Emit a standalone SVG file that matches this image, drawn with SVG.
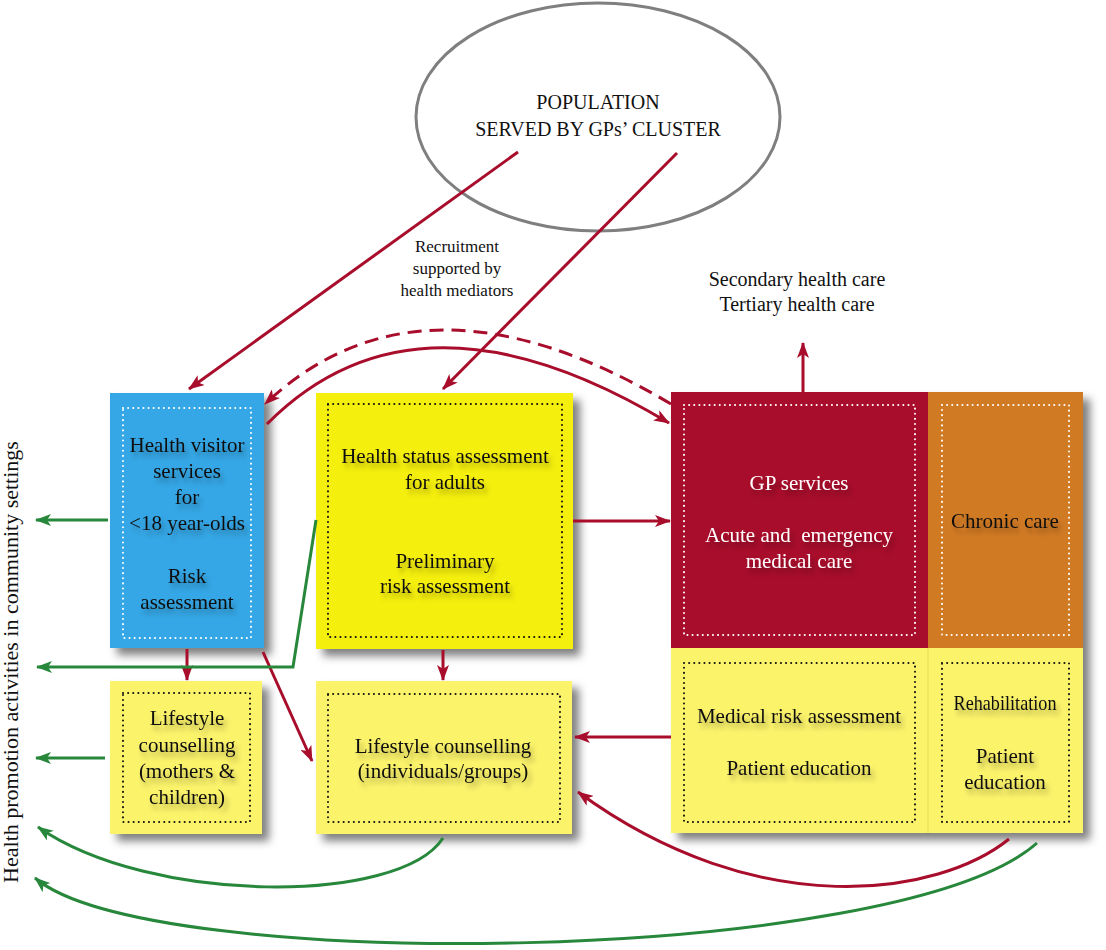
<svg xmlns="http://www.w3.org/2000/svg" width="1106" height="950" viewBox="0 0 1106 950">
<defs>
  <filter id="sh" x="-10%" y="-10%" width="130%" height="130%">
    <feDropShadow dx="7" dy="7" stdDeviation="4" flood-color="#000" flood-opacity="0.5"/>
  </filter>
  <filter id="ts" x="-10%" y="-30%" width="130%" height="190%">
    <feDropShadow dx="3" dy="5" stdDeviation="2.5" flood-color="#000" flood-opacity="0.3"/>
  </filter>
  <marker id="ar" viewBox="0 0 16 12" refX="15" refY="6" markerWidth="16" markerHeight="12" markerUnits="userSpaceOnUse" orient="auto">
    <path d="M0,0 L16,6 L0,12 L4,6 z" fill="#a80d2b"/>
  </marker>
  <marker id="ag" viewBox="0 0 16 12" refX="15" refY="6" markerWidth="16" markerHeight="12" markerUnits="userSpaceOnUse" orient="auto">
    <path d="M0,0 L16,6 L0,12 L4,6 z" fill="#27873b"/>
  </marker>
  <style>
    text { font-family: "Liberation Serif", "Times New Roman", serif; text-anchor: middle; white-space: pre; }
    .bt { font-size: 21px; fill: #111; filter: url(#ts); }
    .wt { font-size: 21px; fill: #fff; filter: url(#ts); }
    .dw { fill: none; stroke: #fff; stroke-width: 2; stroke-dasharray: 0.1 5; stroke-linecap: round; }
    .db { fill: none; stroke: #111; stroke-width: 2; stroke-dasharray: 0.1 5; stroke-linecap: round; }
    .r { fill: none; stroke: #a80d2b; stroke-width: 3; marker-end: url(#ar); }
    .g { fill: none; stroke: #27873b; stroke-width: 3; marker-end: url(#ag); }
  </style>
</defs>
<rect width="1106" height="950" fill="#fff"/>

<g id="population">
  <ellipse cx="598" cy="117" rx="182" ry="114" fill="#fff" stroke="#7f7f7f" stroke-width="3"/>
  <text x="598" y="109" font-size="20" fill="#111">POPULATION</text>
  <text x="598" y="136" font-size="20" fill="#111">SERVED BY GPs’ CLUSTER</text>
</g>

<g id="recruitment-label">
  <text x="457" y="252" font-size="17" fill="#111">Recruitment</text>
  <text x="457" y="274" font-size="17" fill="#111">supported by</text>
  <text x="457" y="296" font-size="17" fill="#111">health mediators</text>
</g>

<g id="secondary-label">
  <text x="797" y="286" font-size="20" fill="#111">Secondary health care</text>
  <text x="797" y="311" font-size="20" fill="#111">Tertiary health care</text>
</g>

<g id="side-label">
  <text transform="translate(18,662) rotate(-90)" font-size="22" fill="#111">Health promotion activities in community settings</text>
</g>

<g id="health-visitor">
  <rect x="110" y="393" width="154" height="255" fill="#36a7e6" filter="url(#sh)"/>
  <rect x="123" y="408" width="128" height="230" class="dw"/>
  <text class="bt" x="187" y="452">Health visitor</text>
  <text class="bt" x="187" y="478">services</text>
  <text class="bt" x="187" y="504">for</text>
  <text class="bt" x="187" y="530">&lt;18 year-olds</text>
  <text class="bt" x="187" y="583">Risk</text>
  <text class="bt" x="187" y="609">assessment</text>
</g>

<g id="health-status">
  <rect x="316" y="393" width="257" height="256" fill="#f5ef0b" filter="url(#sh)"/>
  <rect x="328" y="404" width="234" height="233" class="db"/>
  <text class="bt" x="445" y="463">Health status assessment</text>
  <text class="bt" x="445" y="489">for adults</text>
  <text class="bt" x="445" y="568">Preliminary</text>
  <text class="bt" x="445" y="593">risk assessment</text>
</g>

<g id="gp-block">
  <rect x="671" y="392" width="412" height="441" fill="#fbf36b" filter="url(#sh)"/>
  <line x1="928" y1="648" x2="928" y2="833" stroke="#ece35e" stroke-width="1.5"/>
</g>

<g id="gp-services">
  <rect x="671" y="392" width="257" height="256" fill="#a80d2b"/>
  <rect x="684" y="405" width="231" height="230" class="dw"/>
  <text class="wt" x="799" y="490">GP services</text>
  <text class="wt" x="799" y="542" xml:space="preserve">Acute and  emergency</text>
  <text class="wt" x="799" y="568">medical care</text>
</g>

<g id="chronic-care">
  <rect x="928" y="392" width="155" height="256" fill="#d17a24"/>
  <rect x="942" y="405" width="127" height="230" class="dw"/>
  <text class="bt" x="1005" y="528">Chronic care</text>
</g>

<g id="medical-risk">
  <rect x="684" y="663" width="231" height="159" class="db"/>
  <text class="bt" x="799" y="723">Medical risk assessment</text>
  <text class="bt" x="799" y="775">Patient education</text>
</g>

<g id="rehabilitation">
  <rect x="942" y="663" width="127" height="159" class="db"/>
  <text class="bt" x="1005" y="710" textLength="103" lengthAdjust="spacingAndGlyphs">Rehabilitation</text>
  <text class="bt" x="1005" y="763">Patient</text>
  <text class="bt" x="1005" y="789">education</text>
</g>

<g id="lifestyle-mothers">
  <rect x="110" y="681" width="152" height="153" fill="#fbf36b" filter="url(#sh)"/>
  <rect x="123" y="693" width="127" height="129" class="db"/>
  <text class="bt" x="187" y="725">Lifestyle</text>
  <text class="bt" x="187" y="752">counselling</text>
  <text class="bt" x="187" y="778">(mothers &amp;</text>
  <text class="bt" x="187" y="804">children)</text>
</g>

<g id="lifestyle-individuals">
  <rect x="316" y="681" width="256" height="153" fill="#fbf36b" filter="url(#sh)"/>
  <rect x="328" y="694" width="232" height="128" class="db"/>
  <text class="bt" x="443" y="753">Lifestyle counselling</text>
  <text class="bt" x="443" y="778">(individuals/groups)</text>
</g>

<g id="connectors">
  <path class="r" d="M518,152 L189,389"/>
  <path class="r" d="M677,153 L443,389"/>
  <path class="r" d="M671,404 Q422,256 265,404" stroke-dasharray="14 8"/>
  <path class="r" d="M267,424 Q418,272 669,423"/>
  <path class="r" d="M573,521 L670,521"/>
  <path class="r" d="M671,737 L575,737"/>
  <path class="r" d="M803,392 L803,343"/>
  <path class="r" d="M187,649 L187,680"/>
  <path class="r" d="M443,650 L443,680"/>
  <path class="r" d="M263,652 L312,761"/>
  <path class="r" d="M1009,839 C940,895 760,925 578,792"/>
  <path class="g" d="M108,520 L36,520"/>
  <path class="g" d="M316,520 L293,667 L37,667"/>
  <path class="g" d="M105,758 L36,758"/>
  <path class="g" d="M443,838 C400,905 150,905 38,827"/>
  <path class="g" d="M1037,843 C900,965 150,975 35,878"/>
</g>
</svg>
